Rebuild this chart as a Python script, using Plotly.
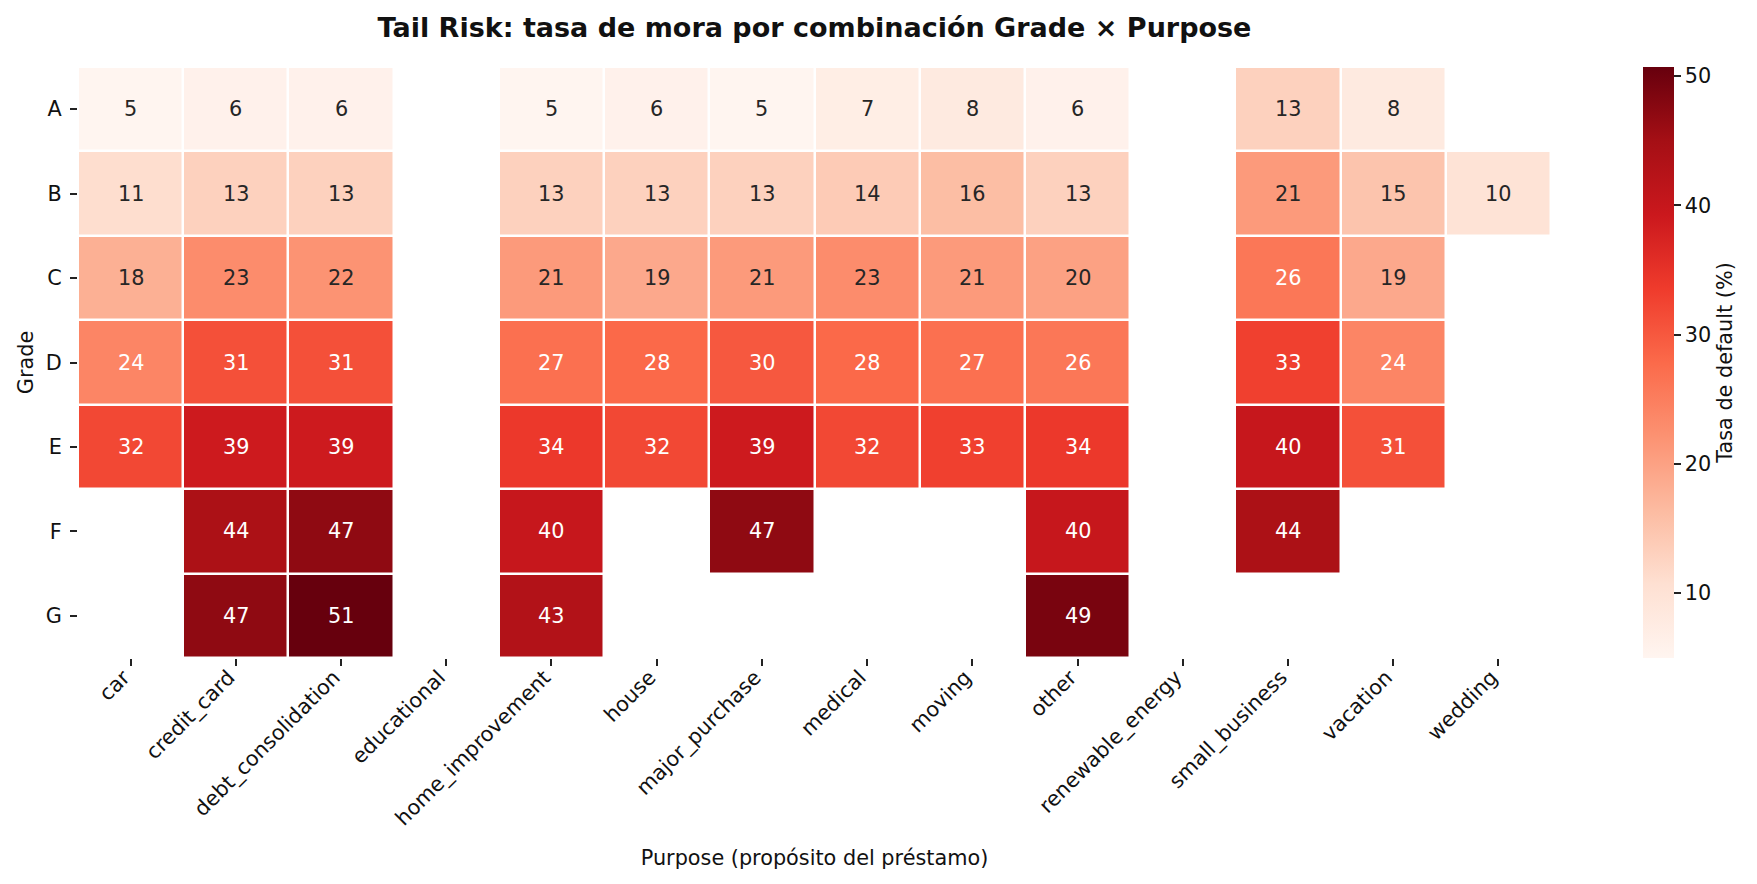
import plotly.graph_objects as go
from plotly.colors import sample_colorscale

grades = ["A", "B", "C", "D", "E", "F", "G"]
purposes = ["car", "credit_card", "debt_consolidation", "educational", "home_improvement",
            "house", "major_purchase", "medical", "moving", "other", "renewable_energy",
            "small_business", "vacation", "wedding"]
N = None
rate_A = [5, 6, 6, N, 5, 6, 5, 7, 8, 6, N, 13, 8, N]
rate_B = [11, 13, 13, N, 13, 13, 13, 14, 16, 13, N, 21, 15, 10]
rate_C = [18, 23, 22, N, 21, 19, 21, 23, 21, 20, N, 26, 19, N]
rate_D = [24, 31, 31, N, 27, 28, 30, 28, 27, 26, N, 33, 24, N]
rate_E = [32, 39, 39, N, 34, 32, 39, 32, 33, 34, N, 40, 31, N]
rate_F = [N, 44, 47, N, 40, N, 47, N, N, 40, N, 44, N, N]
rate_G = [N, 47, 51, N, 43, N, N, N, N, 49, N, N, N, N]
z = [rate_A, rate_B, rate_C, rate_D, rate_E, rate_F, rate_G]

ZMIN, ZMAX = 4.97, 50.7
FONT = "DejaVu Sans"


def lum(rgb_str):
    vals = [float(v) / 255 for v in rgb_str[rgb_str.index("(") + 1:-1].split(",")]
    lin = [v / 12.92 if v <= 0.03928 else ((v + 0.055) / 1.055) ** 2.4 for v in vals]
    return 0.2126 * lin[0] + 0.7152 * lin[1] + 0.0722 * lin[2]


fig = go.Figure()
fig.add_trace(go.Heatmap(
    z=z, x=purposes, y=grades, colorscale="Reds", zmin=ZMIN, zmax=ZMAX,
    xgap=2.5, ygap=2.5, hoverongaps=False,
    colorbar=dict(
        x=1.0625, xanchor="left", xpad=0, y=0.5, yanchor="middle", ypad=0,
        len=1, lenmode="fraction", thickness=31, outlinewidth=0,
        ticks="outside", ticklen=7, tickwidth=1.5, tickcolor="#222",
        tickvals=[10, 20, 30, 40, 50],
        tickfont=dict(family=FONT, size=20.8, color="#111"),
        title=dict(text="Tasa de default (%)", side="right",
                   font=dict(family=FONT, size=20.8, color="#111")),
    ),
))

annotations = []
for gi, g in enumerate(grades):
    for pi, p in enumerate(purposes):
        v = z[gi][pi]
        if v is None:
            continue
        frac = min(max((v - ZMIN) / (ZMAX - ZMIN), 0), 1)
        c = sample_colorscale("Reds", [frac])[0]
        tc = "rgb(38,38,38)" if lum(c) > 0.398 else "white"
        annotations.append(dict(x=p, y=g, xref="x", yref="y", text=str(v), showarrow=False,
                                font=dict(family=FONT, size=20.8, color=tc)))

fig.update_layout(
    width=1757, height=884,
    margin=dict(l=78, r=206, t=67, b=226, autoexpand=False),
    paper_bgcolor="white", plot_bgcolor="white",
    font=dict(family=FONT, size=20.8, color="#111"),
    title=dict(text="<b>Tail Risk: tasa de mora por combinación Grade × Purpose</b>",
               x=0.5, xref="paper", xanchor="center", y=1 - 28 / 884, yanchor="middle",
               font=dict(family=FONT, size=27, color="#111")),
    xaxis=dict(type="category", categoryorder="array", categoryarray=purposes,
               tickangle=-45, ticks="outside", ticklen=7, tickwidth=1.5, tickcolor="#222",
               ticklabelstandoff=-9, ticklabelshift=-7,
               showgrid=False, zeroline=False, showline=False,
               tickfont=dict(family=FONT, size=20.8, color="#111"),
               title=dict(text="Purpose (propósito del préstamo)", standoff=21,
                          font=dict(family=FONT, size=20.8, color="#111"))),
    yaxis=dict(type="category", categoryorder="array", categoryarray=grades,
               autorange="reversed", ticks="outside", ticklen=7, tickwidth=1.5, tickcolor="#222",
               ticklabelstandoff=4,
               showgrid=False, zeroline=False, showline=False,
               tickfont=dict(family=FONT, size=20.8, color="#111"),
               title=dict(text="Grade", standoff=6,
                          font=dict(family=FONT, size=20.8, color="#111"))),
    annotations=annotations,
)

fig.write_html("out.html")
